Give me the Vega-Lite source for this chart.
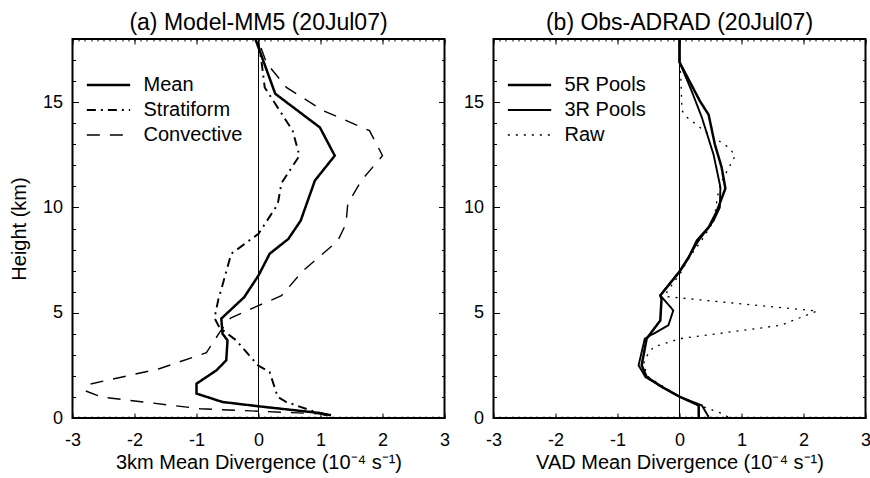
{
  "$schema": "https://vega.github.io/schema/vega-lite/v6.json",
  "padding": {"left": 7.5, "top": 10, "right": 2, "bottom": 2},
  "background": "white",
  "config": {
    "font": "Liberation Sans",
    "view": {"stroke": "black", "strokeWidth": 2},
    "title": {"fontSize": 23, "fontWeight": "normal", "color": "black", "offset": -0.5, "anchor": "middle", "font": "Liberation Sans"},
    "axis": {"domain": false, "grid": false, "tickColor": "black", "tickWidth": 1, "labelFontSize": 18, "labelColor": "black", "titleFontSize": 20, "titleFontWeight": "normal", "titleColor": "black", "labelOverlap": false, "labelFlush": false, "labelExpr": "datum.value + ''"},
    "legend": {"symbolType": "M-2.5,0H2.5", "symbolSize": 300, "symbolStrokeColor": "black", "labelFontSize": 20, "labelColor": "black", "labelOffset": 25, "rowPadding": 5}
  },
  "datasets": {
    "left": [
      {"s": "Mean", "x": -0.05, "y": 18.0},
      {"s": "Mean", "x": 0.27, "y": 15.4},
      {"s": "Mean", "x": 0.99, "y": 13.8},
      {"s": "Mean", "x": 1.23, "y": 12.46},
      {"s": "Mean", "x": 0.91, "y": 11.28},
      {"s": "Mean", "x": 0.68, "y": 9.37},
      {"s": "Mean", "x": 0.48, "y": 8.5},
      {"s": "Mean", "x": 0.18, "y": 7.8},
      {"s": "Mean", "x": 0.0, "y": 6.77},
      {"s": "Mean", "x": -0.23, "y": 5.74},
      {"s": "Mean", "x": -0.6, "y": 4.72},
      {"s": "Mean", "x": -0.58, "y": 4.0},
      {"s": "Mean", "x": -0.5, "y": 3.69},
      {"s": "Mean", "x": -0.52, "y": 2.74},
      {"s": "Mean", "x": -0.68, "y": 2.26},
      {"s": "Mean", "x": -1.0, "y": 1.63},
      {"s": "Mean", "x": -1.0, "y": 1.16},
      {"s": "Mean", "x": -0.58, "y": 0.76},
      {"s": "Mean", "x": -0.01, "y": 0.56},
      {"s": "Mean", "x": 0.98, "y": 0.24},
      {"s": "Mean", "x": 1.17, "y": 0.13},
      {"s": "Stratiform", "x": 0.0, "y": 17.8},
      {"s": "Stratiform", "x": 0.05, "y": 16.9},
      {"s": "Stratiform", "x": 0.1, "y": 15.7},
      {"s": "Stratiform", "x": 0.55, "y": 13.65},
      {"s": "Stratiform", "x": 0.66, "y": 12.46},
      {"s": "Stratiform", "x": 0.37, "y": 11.15},
      {"s": "Stratiform", "x": 0.31, "y": 10.15},
      {"s": "Stratiform", "x": 0.0, "y": 8.75},
      {"s": "Stratiform", "x": -0.44, "y": 7.8},
      {"s": "Stratiform", "x": -0.61, "y": 6.0},
      {"s": "Stratiform", "x": -0.64, "y": 5.74},
      {"s": "Stratiform", "x": -0.71, "y": 4.75},
      {"s": "Stratiform", "x": -0.63, "y": 4.3},
      {"s": "Stratiform", "x": -0.36, "y": 3.69},
      {"s": "Stratiform", "x": -0.01, "y": 2.5},
      {"s": "Stratiform", "x": 0.18, "y": 2.18},
      {"s": "Stratiform", "x": 0.31, "y": 1.0},
      {"s": "Stratiform", "x": 0.45, "y": 0.76},
      {"s": "Stratiform", "x": 0.85, "y": 0.35},
      {"s": "Stratiform", "x": 1.1, "y": 0.13},
      {"s": "Convective", "x": 0.0, "y": 17.9},
      {"s": "Convective", "x": 0.13, "y": 16.86},
      {"s": "Convective", "x": 0.45, "y": 15.7},
      {"s": "Convective", "x": 1.04, "y": 14.6},
      {"s": "Convective", "x": 1.79, "y": 13.65},
      {"s": "Convective", "x": 2.0, "y": 12.46},
      {"s": "Convective", "x": 1.66, "y": 11.28},
      {"s": "Convective", "x": 1.44, "y": 10.17},
      {"s": "Convective", "x": 1.41, "y": 9.22},
      {"s": "Convective", "x": 1.28, "y": 8.42},
      {"s": "Convective", "x": 0.72, "y": 7.0},
      {"s": "Convective", "x": 0.37, "y": 5.81},
      {"s": "Convective", "x": 0.0, "y": 5.34},
      {"s": "Convective", "x": -0.45, "y": 4.75},
      {"s": "Convective", "x": -0.62, "y": 4.1},
      {"s": "Convective", "x": -0.84, "y": 3.1},
      {"s": "Convective", "x": -1.6, "y": 2.34},
      {"s": "Convective", "x": -2.73, "y": 1.6},
      {"s": "Convective", "x": -2.8, "y": 1.3},
      {"s": "Convective", "x": -2.54, "y": 1.0},
      {"s": "Convective", "x": -0.94, "y": 0.44},
      {"s": "Convective", "x": 0.0, "y": 0.32},
      {"s": "Convective", "x": 0.99, "y": 0.2},
      {"s": "Convective", "x": 1.1, "y": 0.13}
    ],
    "right": [
      {"s": "5R Pools", "x": 0.0, "y": 18.0},
      {"s": "5R Pools", "x": 0.0, "y": 16.9},
      {"s": "5R Pools", "x": 0.33, "y": 15.05},
      {"s": "5R Pools", "x": 0.47, "y": 14.4},
      {"s": "5R Pools", "x": 0.57, "y": 13.0},
      {"s": "5R Pools", "x": 0.68, "y": 11.9},
      {"s": "5R Pools", "x": 0.74, "y": 10.9},
      {"s": "5R Pools", "x": 0.6, "y": 9.8},
      {"s": "5R Pools", "x": 0.47, "y": 9.05},
      {"s": "5R Pools", "x": 0.28, "y": 8.42},
      {"s": "5R Pools", "x": 0.15, "y": 7.63},
      {"s": "5R Pools", "x": 0.0, "y": 6.95},
      {"s": "5R Pools", "x": -0.31, "y": 5.82},
      {"s": "5R Pools", "x": -0.29, "y": 5.65},
      {"s": "5R Pools", "x": -0.31, "y": 4.63},
      {"s": "5R Pools", "x": -0.53, "y": 3.77},
      {"s": "5R Pools", "x": -0.61, "y": 2.5},
      {"s": "5R Pools", "x": -0.53, "y": 1.95},
      {"s": "5R Pools", "x": -0.28, "y": 1.47},
      {"s": "5R Pools", "x": 0.01, "y": 1.0},
      {"s": "5R Pools", "x": 0.31, "y": 0.6},
      {"s": "5R Pools", "x": 0.31, "y": 0.05},
      {"s": "3R Pools", "x": 0.0, "y": 18.0},
      {"s": "3R Pools", "x": 0.0, "y": 16.9},
      {"s": "3R Pools", "x": 0.2, "y": 15.5},
      {"s": "3R Pools", "x": 0.36, "y": 14.28},
      {"s": "3R Pools", "x": 0.55, "y": 12.5},
      {"s": "3R Pools", "x": 0.66, "y": 10.96},
      {"s": "3R Pools", "x": 0.65, "y": 10.0},
      {"s": "3R Pools", "x": 0.55, "y": 9.37},
      {"s": "3R Pools", "x": 0.31, "y": 8.43},
      {"s": "3R Pools", "x": 0.01, "y": 7.0},
      {"s": "3R Pools", "x": -0.31, "y": 5.82},
      {"s": "3R Pools", "x": -0.1, "y": 5.11},
      {"s": "3R Pools", "x": -0.18, "y": 4.4},
      {"s": "3R Pools", "x": -0.56, "y": 3.77},
      {"s": "3R Pools", "x": -0.66, "y": 2.5},
      {"s": "3R Pools", "x": -0.55, "y": 1.95},
      {"s": "3R Pools", "x": -0.28, "y": 1.47},
      {"s": "3R Pools", "x": 0.01, "y": 1.0},
      {"s": "3R Pools", "x": 0.36, "y": 0.6},
      {"s": "3R Pools", "x": 0.47, "y": 0.05},
      {"s": "Raw", "x": 0.0, "y": 18.0},
      {"s": "Raw", "x": 0.0, "y": 16.9},
      {"s": "Raw", "x": 0.02, "y": 16.3},
      {"s": "Raw", "x": 0.04, "y": 14.6},
      {"s": "Raw", "x": 0.12, "y": 14.28},
      {"s": "Raw", "x": 0.33, "y": 13.8},
      {"s": "Raw", "x": 0.55, "y": 13.33},
      {"s": "Raw", "x": 0.79, "y": 12.86},
      {"s": "Raw", "x": 0.9, "y": 12.46},
      {"s": "Raw", "x": 0.77, "y": 11.75},
      {"s": "Raw", "x": 0.66, "y": 11.12},
      {"s": "Raw", "x": 0.61, "y": 10.48},
      {"s": "Raw", "x": 0.58, "y": 9.85},
      {"s": "Raw", "x": 0.52, "y": 9.2},
      {"s": "Raw", "x": 0.35, "y": 8.4},
      {"s": "Raw", "x": 0.15, "y": 7.6},
      {"s": "Raw", "x": 0.02, "y": 6.9},
      {"s": "Raw", "x": -0.2, "y": 6.0},
      {"s": "Raw", "x": -0.23, "y": 5.77},
      {"s": "Raw", "x": 2.22, "y": 5.08},
      {"s": "Raw", "x": 1.63, "y": 4.4},
      {"s": "Raw", "x": 0.01, "y": 3.77},
      {"s": "Raw", "x": -0.42, "y": 3.37},
      {"s": "Raw", "x": -0.56, "y": 2.82},
      {"s": "Raw", "x": -0.58, "y": 2.5},
      {"s": "Raw", "x": -0.5, "y": 1.95},
      {"s": "Raw", "x": -0.25, "y": 1.47},
      {"s": "Raw", "x": 0.01, "y": 1.0},
      {"s": "Raw", "x": 0.28, "y": 0.64},
      {"s": "Raw", "x": 0.69, "y": 0.21},
      {"s": "Raw", "x": 0.78, "y": 0.05}
    ],
    "zero": [{"x": 0, "y": 0, "y2": 18}]
  },
  "hconcat": [
    {
      "title": "(a) Model-MM5 (20Jul07)",
      "width": 372,
      "height": 379,
      "data": {"name": "left"},
      "layer": [
        {
          "transform": [{"filter": "datum.s === 'Mean'"}],
          "mark": {"type": "line", "color": "black"},
          "encoding": {
            "x": {"field": "x", "type": "quantitative", "scale": {"domain": [-3, 3], "nice": false, "zero": false},
                  "axis": {"orient": "bottom", "values": [-3, -2, -1, 0, 1, 2, 3], "tickSize": -5, "labelPadding": 18, "title": "3km Mean Divergence (10⁻⁴ s⁻¹)", "titlePadding": 3}},
            "y": {"field": "y", "type": "quantitative", "scale": {"domain": [0, 18], "nice": false},
                  "axis": {"orient": "left", "values": [0, 5, 10, 15], "tickSize": -6, "labelPadding": 16, "title": "Height (km)", "titlePadding": 13}},
            "order": {"field": "y", "type": "quantitative"},
            "strokeDash": {"field": "s", "type": "nominal", "scale": {"domain": ["Mean", "Stratiform", "Convective"], "range": [[1, 0], [9, 5, 2, 5], [13, 10]]}, "legend": {"title": null, "orient": "none", "legendX": 26, "legendY": 36}},
            "strokeWidth": {"field": "s", "type": "nominal", "scale": {"domain": ["Mean", "Stratiform", "Convective"], "range": [2.5, 1.4, 1.4]}, "legend": {"title": null, "orient": "none", "legendX": 26, "legendY": 36}}
          }
        },
        {
          "transform": [{"filter": "datum.s === 'Stratiform'"}],
          "mark": {"type": "line", "color": "black"},
          "encoding": {
            "x": {"field": "x", "type": "quantitative", "axis": {"orient": "bottom", "values": [-3, -2.9, -2.8, -2.7, -2.6, -2.5, -2.4, -2.3, -2.2, -2.1, -2, -1.9, -1.8, -1.7, -1.6, -1.5, -1.4, -1.3, -1.2, -1.1, -1, -0.9, -0.8, -0.7, -0.6, -0.5, -0.4, -0.3, -0.2, -0.1, 0, 0.1, 0.2, 0.3, 0.4, 0.5, 0.6, 0.7, 0.8, 0.9, 1, 1.1, 1.2, 1.3, 1.4, 1.5, 1.6, 1.7, 1.8, 1.9, 2, 2.1, 2.2, 2.3, 2.4, 2.5, 2.6, 2.7, 2.8, 2.9, 3], "tickSize": -2, "labels": false, "title": null}},
            "y": {"field": "y", "type": "quantitative", "axis": {"orient": "left", "values": [0, 1, 2, 3, 4, 5, 6, 7, 8, 9, 10, 11, 12, 13, 14, 15, 16, 17, 18], "tickSize": -3, "labels": false, "title": null}},
            "order": {"field": "y", "type": "quantitative"},
            "strokeDash": {"field": "s", "type": "nominal"},
            "strokeWidth": {"field": "s", "type": "nominal"}
          }
        },
        {
          "transform": [{"filter": "datum.s === 'Convective'"}],
          "mark": {"type": "line", "color": "black"},
          "encoding": {
            "x": {"field": "x", "type": "quantitative", "axis": {"orient": "top", "values": [-3, -2, -1, 0, 1, 2, 3], "tickSize": -5, "labels": false, "title": null}},
            "y": {"field": "y", "type": "quantitative", "axis": {"orient": "right", "values": [0, 5, 10, 15], "tickSize": -6, "labels": false, "title": null}},
            "order": {"field": "y", "type": "quantitative"},
            "strokeDash": {"field": "s", "type": "nominal"},
            "strokeWidth": {"field": "s", "type": "nominal"}
          }
        },
        {
          "data": {"name": "zero"},
          "mark": {"type": "rule", "color": "black", "strokeWidth": 1},
          "encoding": {
            "x": {"field": "x", "type": "quantitative", "axis": {"orient": "top", "values": [-3, -2.9, -2.8, -2.7, -2.6, -2.5, -2.4, -2.3, -2.2, -2.1, -2, -1.9, -1.8, -1.7, -1.6, -1.5, -1.4, -1.3, -1.2, -1.1, -1, -0.9, -0.8, -0.7, -0.6, -0.5, -0.4, -0.3, -0.2, -0.1, 0, 0.1, 0.2, 0.3, 0.4, 0.5, 0.6, 0.7, 0.8, 0.9, 1, 1.1, 1.2, 1.3, 1.4, 1.5, 1.6, 1.7, 1.8, 1.9, 2, 2.1, 2.2, 2.3, 2.4, 2.5, 2.6, 2.7, 2.8, 2.9, 3], "tickSize": -2, "labels": false, "title": null}},
            "y": {"field": "y", "type": "quantitative", "axis": {"orient": "right", "values": [0, 1, 2, 3, 4, 5, 6, 7, 8, 9, 10, 11, 12, 13, 14, 15, 16, 17, 18], "tickSize": -3, "labels": false, "title": null}},
            "y2": {"field": "y2"}
          }
        }
      ],
      "resolve": {"axis": {"x": "independent", "y": "independent"}}
    },
    {
      "title": "(b) Obs-ADRAD (20Jul07)",
      "width": 372,
      "height": 379,
      "data": {"name": "right"},
      "layer": [
        {
          "transform": [{"filter": "datum.s === '5R Pools'"}],
          "mark": {"type": "line", "color": "black"},
          "encoding": {
            "x": {"field": "x", "type": "quantitative", "scale": {"domain": [-3, 3], "nice": false, "zero": false},
                  "axis": {"orient": "bottom", "values": [-3, -2, -1, 0, 1, 2, 3], "tickSize": -5, "labelPadding": 18, "title": "VAD Mean Divergence (10⁻⁴ s⁻¹)", "titlePadding": 3}},
            "y": {"field": "y", "type": "quantitative", "scale": {"domain": [0, 18], "nice": false},
                  "axis": {"orient": "left", "values": [0, 5, 10, 15], "tickSize": -6, "labelPadding": 16, "title": null}},
            "order": {"field": "y", "type": "quantitative"},
            "strokeDash": {"field": "s", "type": "nominal", "scale": {"domain": ["5R Pools", "3R Pools", "Raw"], "range": [[1, 0], [1, 0], [2, 6]]}, "legend": {"title": null, "orient": "none", "legendX": 26, "legendY": 36}},
            "strokeWidth": {"field": "s", "type": "nominal", "scale": {"domain": ["5R Pools", "3R Pools", "Raw"], "range": [2.5, 1.3, 2]}, "legend": {"title": null, "orient": "none", "legendX": 26, "legendY": 36}}
          }
        },
        {
          "transform": [{"filter": "datum.s === '3R Pools'"}],
          "mark": {"type": "line", "color": "black"},
          "encoding": {
            "x": {"field": "x", "type": "quantitative", "axis": {"orient": "bottom", "values": [-3, -2.9, -2.8, -2.7, -2.6, -2.5, -2.4, -2.3, -2.2, -2.1, -2, -1.9, -1.8, -1.7, -1.6, -1.5, -1.4, -1.3, -1.2, -1.1, -1, -0.9, -0.8, -0.7, -0.6, -0.5, -0.4, -0.3, -0.2, -0.1, 0, 0.1, 0.2, 0.3, 0.4, 0.5, 0.6, 0.7, 0.8, 0.9, 1, 1.1, 1.2, 1.3, 1.4, 1.5, 1.6, 1.7, 1.8, 1.9, 2, 2.1, 2.2, 2.3, 2.4, 2.5, 2.6, 2.7, 2.8, 2.9, 3], "tickSize": -2, "labels": false, "title": null}},
            "y": {"field": "y", "type": "quantitative", "axis": {"orient": "left", "values": [0, 1, 2, 3, 4, 5, 6, 7, 8, 9, 10, 11, 12, 13, 14, 15, 16, 17, 18], "tickSize": -3, "labels": false, "title": null}},
            "order": {"field": "y", "type": "quantitative"},
            "strokeDash": {"field": "s", "type": "nominal"},
            "strokeWidth": {"field": "s", "type": "nominal"}
          }
        },
        {
          "transform": [{"filter": "datum.s === 'Raw'"}],
          "mark": {"type": "line", "color": "black"},
          "encoding": {
            "x": {"field": "x", "type": "quantitative", "axis": {"orient": "top", "values": [-3, -2, -1, 0, 1, 2, 3], "tickSize": -5, "labels": false, "title": null}},
            "y": {"field": "y", "type": "quantitative", "axis": {"orient": "right", "values": [0, 5, 10, 15], "tickSize": -6, "labels": false, "title": null}},
            "order": {"field": "y", "type": "quantitative"},
            "strokeDash": {"field": "s", "type": "nominal"},
            "strokeWidth": {"field": "s", "type": "nominal"}
          }
        },
        {
          "data": {"name": "zero"},
          "mark": {"type": "rule", "color": "black", "strokeWidth": 1},
          "encoding": {
            "x": {"field": "x", "type": "quantitative", "axis": {"orient": "top", "values": [-3, -2.9, -2.8, -2.7, -2.6, -2.5, -2.4, -2.3, -2.2, -2.1, -2, -1.9, -1.8, -1.7, -1.6, -1.5, -1.4, -1.3, -1.2, -1.1, -1, -0.9, -0.8, -0.7, -0.6, -0.5, -0.4, -0.3, -0.2, -0.1, 0, 0.1, 0.2, 0.3, 0.4, 0.5, 0.6, 0.7, 0.8, 0.9, 1, 1.1, 1.2, 1.3, 1.4, 1.5, 1.6, 1.7, 1.8, 1.9, 2, 2.1, 2.2, 2.3, 2.4, 2.5, 2.6, 2.7, 2.8, 2.9, 3], "tickSize": -2, "labels": false, "title": null}},
            "y": {"field": "y", "type": "quantitative", "axis": {"orient": "right", "values": [0, 1, 2, 3, 4, 5, 6, 7, 8, 9, 10, 11, 12, 13, 14, 15, 16, 17, 18], "tickSize": -3, "labels": false, "title": null}},
            "y2": {"field": "y2"}
          }
        }
      ],
      "resolve": {"axis": {"x": "independent", "y": "independent"}}
    }
  ],
  "spacing": 10,
  "resolve": {"scale": {"strokeDash": "independent", "strokeWidth": "independent"}, "legend": {"strokeDash": "independent", "strokeWidth": "independent"}}
}
